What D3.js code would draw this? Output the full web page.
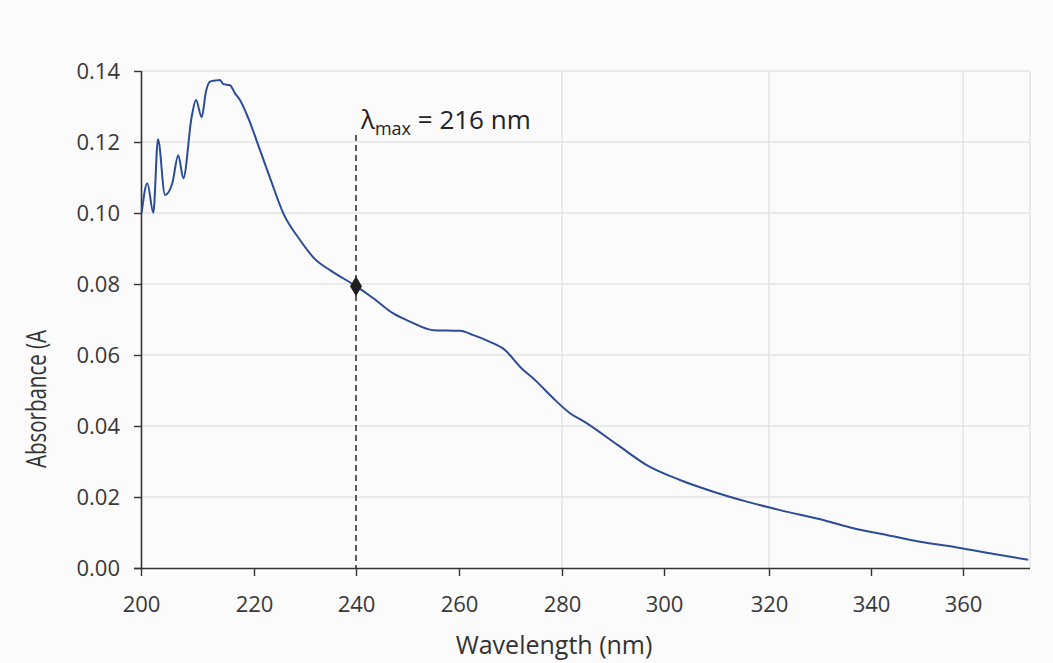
<!DOCTYPE html>
<html>
<head>
<meta charset="utf-8">
<script src="https://cdn.jsdelivr.net/npm/d3@7"></script>
<style>
  html, body { margin: 0; padding: 0; background: #fbfbfb; }
  svg { display: block; font-family: "Open Sans", "Noto Sans", sans-serif; }
</style>
</head>
<body>
<svg id="chart" width="1053" height="663"></svg>
<script>
// ---- data ----
const wavelength = [200.12, 201.12, 202.18, 203.01, 204.25, 205.54, 206.60, 207.49, 208.97, 209.73,
  210.74, 211.50, 212.21, 213.10, 213.98, 214.57, 215.75, 216.64, 217.52, 218.99,
  221.18, 223.14, 225.75, 229.02, 231.96, 234.90, 240.00, 243.36, 247.24, 250.49,
  255.01, 260.19, 262.78, 266.02, 268.93, 271.84, 275.09, 278.31, 281.57, 284.51,
  290.98, 296.61, 303.05, 309.40, 315.77, 322.16, 330.98, 336.53, 343.41, 350.65,
  357.89, 365.15, 374.20];
const absorbance = [0.1001, 0.1084, 0.1001, 0.1208, 0.1051, 0.1084, 0.1163, 0.1098, 0.1271, 0.1318,
  0.1270, 0.1342, 0.1370, 0.1373, 0.1375, 0.1363, 0.1360, 0.1337, 0.1318, 0.1267,
  0.1177, 0.1099, 0.0999, 0.0924, 0.0870, 0.0839, 0.0794, 0.0760, 0.0717, 0.0694,
  0.0670, 0.0668, 0.0656, 0.0637, 0.0614, 0.0567, 0.0525, 0.0478, 0.0436, 0.0411,
  0.0346, 0.0290, 0.0248, 0.0215, 0.0187, 0.0163, 0.0134, 0.0112, 0.0093, 0.0074,
  0.0060, 0.0043, 0.0023];
const xTicks = [200, 220, 240, 260, 280, 300, 320, 340, 360];
const yTicks = [0.00, 0.02, 0.04, 0.06, 0.08, 0.10, 0.12, 0.14];
const xGrid = [280, 320, 360];
const xMax = 374.6;
const markerPoint = { wl: 240.0, a: 0.0794 };
const annotationText = { main: "\u03bb", sub: "max", rest: " = 216 nm" };
const xTitle = "Wavelength (nm)";
const yTitle = "Absorbance (A";

// ---- layout ----
const svg = d3.select("#chart");
const mLeft = 141, mRight = 1030, mTop = 71, mBottom = 568;
// axis as drawn in the source (tick spacing is slightly uneven)
const xTickPx = [141, 254, 356, 459, 562, 664, 769, 871, 963, mRight];
const x = d3.scaleLinear().domain([...xTicks, xMax]).range(xTickPx);
const y = d3.scaleLinear().domain([0, 0.14]).range([mBottom, mTop]);

const ink = "#333";
const gridColor = "#e5e5e5";
const font = "'Open Sans', 'Noto Sans', sans-serif";

// grid
svg.append("g").selectAll("line").data(yTicks.filter(d => d > 0)).join("line")
  .attr("x1", mLeft).attr("x2", mRight)
  .attr("y1", d => y(d)).attr("y2", d => y(d))
  .attr("stroke", gridColor).attr("stroke-width", 1.5);
svg.append("g").selectAll("line").data(xGrid).join("line")
  .attr("x1", d => x(d)).attr("x2", d => x(d))
  .attr("y1", mTop).attr("y2", mBottom)
  .attr("stroke", gridColor).attr("stroke-width", 1.5);
svg.append("line")
  .attr("x1", mRight).attr("x2", mRight).attr("y1", mTop).attr("y2", mBottom)
  .attr("stroke", gridColor).attr("stroke-width", 1.5);

// axes
const xAxis = svg.append("g").attr("transform", `translate(0,${mBottom})`)
  .call(d3.axisBottom(x).tickValues(xTicks).tickFormat(d3.format("d")).tickSizeInner(8).tickSizeOuter(0).tickPadding(20));
const yAxis = svg.append("g").attr("transform", `translate(${mLeft},0)`)
  .call(d3.axisLeft(y).tickValues(yTicks).tickFormat(d3.format(".2f")).tickSizeInner(7).tickSizeOuter(0).tickPadding(14));
[xAxis, yAxis].forEach(g => {
  g.select(".domain").attr("stroke", ink).attr("stroke-width", 1.6);
  g.selectAll(".tick line").attr("stroke", ink).attr("stroke-width", 1.4);
  g.selectAll(".tick text").attr("fill", "#383838").style("font-size", "22px")
    .style("font-family", font);
});
xAxis.select(".domain").attr("d", `M${mLeft - 7},0.5H${mRight}`);
yAxis.select(".domain").attr("d", `M0.5,${mTop}V${mBottom}`);

// dashed marker line
svg.append("line")
  .attr("x1", x(markerPoint.wl)).attr("x2", x(markerPoint.wl))
  .attr("y1", 135).attr("y2", mBottom)
  .attr("stroke", ink).attr("stroke-width", 1.6).attr("stroke-dasharray", "6,4");

// spectrum
const data = wavelength.map((w, i) => ({ w, a: absorbance[i] }));
svg.append("path").datum(data)
  .attr("fill", "none").attr("stroke", "#2c4b98").attr("stroke-width", 2)
  .attr("stroke-linejoin", "round")
  .attr("d", d3.line().curve(d3.curveMonotoneX).x(d => x(d.w)).y(d => y(d.a)));

// diamond marker
const mx = x(markerPoint.wl), my = y(markerPoint.a);
svg.append("path")
  .attr("d", `M${mx},${my - 10}L${mx + 6},${my}L${mx},${my + 10}L${mx - 6},${my}Z`)
  .attr("fill", "#1e1e1e");

// annotation
const ann = svg.append("text").attr("x", mx + 5).attr("y", 129)
  .attr("fill", "#222").style("font-size", "26px");
ann.append("tspan").text(annotationText.main);
ann.append("tspan").attr("dy", 6).style("font-size", "18px").text(annotationText.sub);
ann.append("tspan").attr("dy", -6).text(annotationText.rest);

// axis titles
svg.append("text").attr("x", 554).attr("y", 654).attr("text-anchor", "middle")
  .attr("fill", "#333").style("font-size", "25px").text(xTitle);
svg.append("text").attr("transform", "translate(46,468) rotate(-90)")
  .attr("text-anchor", "start").attr("fill", "#333").style("font-size", "27px")
  .attr("textLength", 138).attr("lengthAdjust", "spacingAndGlyphs").text(yTitle);
</script>
</body>
</html>
